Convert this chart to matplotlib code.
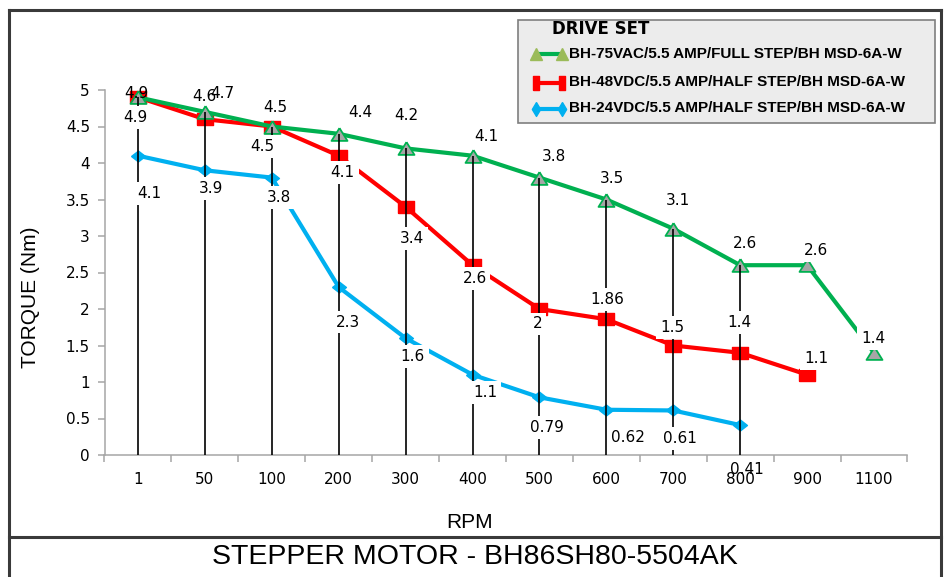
import matplotlib
matplotlib.use('Agg')
import numpy as np
import matplotlib.pyplot as plt
from matplotlib.lines import Line2D
from matplotlib.patches import Rectangle

# data
rpm_labels = ['1', '50', '100', '200', '300', '400', '500', '600', '700', '800', '900', '1100']
torque_75vac = [4.9, 4.7, 4.5, 4.4, 4.2, 4.1, 3.8, 3.5, 3.1, 2.6, 2.6, 1.4]
torque_48vdc = [4.9, 4.6, 4.5, 4.1, 3.4, 2.6, 2.0, 1.86, 1.5, 1.4, 1.1]
torque_24vdc = [4.1, 3.9, 3.8, 2.3, 1.6, 1.1, 0.79, 0.62, 0.61, 0.41]
series_names = ['BH-75VAC/5.5 AMP/FULL STEP/BH MSD-6A-W',
                'BH-48VDC/5.5 AMP/HALF STEP/BH MSD-6A-W',
                'BH-24VDC/5.5 AMP/HALF STEP/BH MSD-6A-W']

# label offsets in pixels (dx right, dy down), like Excel placed them
green_off = [(-2, -4), (17, -18), (4, -19), (22, -21), (1, -33), (14, -19), (14, -21),
             (6, -21), (5, -28), (5, -22), (9, -15), (-1, -14)]
red_off = [(-3, 20), (0, -23), (-9, 20), (4, 17), (6, 32), (2, 13), (-2, 15),
           (1, -20), (-1, -18), (-1, -30), (9, -16)]
blue_off = [(11, 38), (6, 18), (7, 20), (9, 35), (7, 18), (13, 18), (7, 30),
            (22, 28), (7, 28), (7, 44)]

GREEN = '#00b050'
RED = '#ff0000'
BLUE = '#00b0f0'

W, H = 944, 577
fig = plt.figure(figsize=(W / 100, H / 100), dpi=100)


def fx(px):
    return px / W


def fy(py):
    return 1 - py / H


ax = fig.add_axes([fx(104.5), fy(455), fx(907.5) - fx(104.5), fy(90) - fy(455)])

tri = [(0, 0.8), (-1, -0.8), (1, -0.8), (0, 0.8)]
sq = [(-1, -0.75), (1, -0.75), (1, 0.75), (-1, 0.75), (-1, -0.75)]
dia = [(-1, 0), (0, -0.78), (1, 0), (0, 0.78), (-1, 0)]

x = np.arange(len(rpm_labels))
ax.plot(x[:len(torque_24vdc)], torque_24vdc, color=BLUE, lw=3, marker=dia, ms=10,
        mfc=BLUE, mec=BLUE, zorder=2)
ax.plot(x[:len(torque_48vdc)], torque_48vdc, color=RED, lw=3, marker=sq, ms=12,
        mfc=RED, mec=RED, zorder=2.1)
ax.plot(x, torque_75vac, color=GREEN, lw=3, marker=tri, ms=11.5, mfc='#a6a6a6',
        mec=GREEN, mew=1.3, zorder=2.2)

# drop lines where all three series have values
n_drop = len(torque_24vdc)
top_vals = np.max([torque_75vac[:n_drop], torque_48vdc[:n_drop], torque_24vdc], axis=0)
ax.vlines(x[:n_drop], 0, top_vals, color='black', lw=1.2, zorder=4)

no_box = {('g', 0), ('g', 1), ('r', 1), ('b', 9)}
for key, vals, offs in [('b', torque_24vdc, blue_off), ('r', torque_48vdc, red_off),
                        ('g', torque_75vac, green_off)]:
    for i, (v, (dx, dy)) in enumerate(zip(vals, offs)):
        box = None if (key, i) in no_box else dict(boxstyle='square,pad=0.25', fc='white', ec='none')
        ax.annotate(f'{v:g}', (x[i], v), xytext=(dx * 0.72, -dy * 0.72),
                    textcoords='offset points', ha='center', va='center',
                    fontsize=11, family='DejaVu Sans', bbox=box, zorder=5)

ax.set_xlim(-0.5, 11.5)
ax.set_ylim(0, 5)
ax.set_yticks(np.arange(0, 5.01, 0.5))
ax.set_yticklabels([f'{t:g}' for t in np.arange(0, 5.01, 0.5)])
ax.set_xticks(np.arange(-0.5, 12, 1))
ax.set_xticks(x, minor=True)
ax.set_xticklabels(rpm_labels, minor=True)
for s in ['top', 'right']:
    ax.spines[s].set_visible(False)
for s in ['left', 'bottom']:
    ax.spines[s].set_color('#a6a6a6')
    ax.spines[s].set_linewidth(1.1)
ax.tick_params(axis='x', which='major', length=5, width=1.1, color='#a6a6a6', labelbottom=False)
ax.tick_params(axis='x', which='minor', length=0, pad=12, labelsize=11)
ax.tick_params(axis='y', length=5, width=1.1, color='#a6a6a6', pad=5.5, labelsize=11)

# axis titles and heading
fig.text(fx(470), fy(522), 'RPM', family='Liberation Sans', fontsize=15, ha='center', va='center')
fig.text(fx(30), fy(297), 'TORQUE (Nm)', family='Liberation Sans', fontsize=15,
         rotation=90, ha='center', va='center')
fig.text(fx(475), fy(557), 'STEPPER MOTOR - BH86SH80-5504AK', family='Liberation Sans',
         fontsize=20.5, ha='center', va='center')

# frame
bc = '#3a3a3a'
for xs, ys in [([9, 9], [10, H]), ([941, 941], [10, H]), ([9, 941], [10, 10]), ([9, 941], [537, 537])]:
    fig.add_artist(Line2D([fx(v) for v in xs], [fy(v) for v in ys], color=bc, lw=2.2))

# legend drawn by hand
fig.add_artist(Rectangle((fx(518), fy(123)), fx(935) - fx(518), fy(20) - fy(123),
                         transform=fig.transFigure, fc='#ececec', ec='#7f7f7f', lw=1.2))
fig.text(fx(552), fy(29), 'DRIVE SET', family='DejaVu Sans', fontweight='heavy',
         fontsize=12, ha='left', va='center')
tall_sq = [(-0.5, -1), (0.5, -1), (0.5, 1), (-0.5, 1), (-0.5, -1)]
tall_dia = [(0, 1), (0.6, 0), (0, -1), (-0.6, 0), (0, 1)]
handles = [(GREEN, '^', 9, '#9bbb59', 53.5),
           (RED, tall_sq, 10, RED, 82.5),
           (BLUE, tall_dia, 10, BLUE, 108.5)]
for (col, mk, ms, mfc, yy), name in zip(handles, series_names):
    fig.add_artist(Line2D([fx(536), fx(562)], [fy(yy), fy(yy)], color=col, lw=3,
                          marker=mk, ms=ms, mfc=mfc, mec=mfc))
    fig.text(fx(569), fy(yy), name, family='Liberation Sans', fontweight='bold',
             fontsize=11, ha='left', va='center')

fig.savefig('out.png', dpi=100)
